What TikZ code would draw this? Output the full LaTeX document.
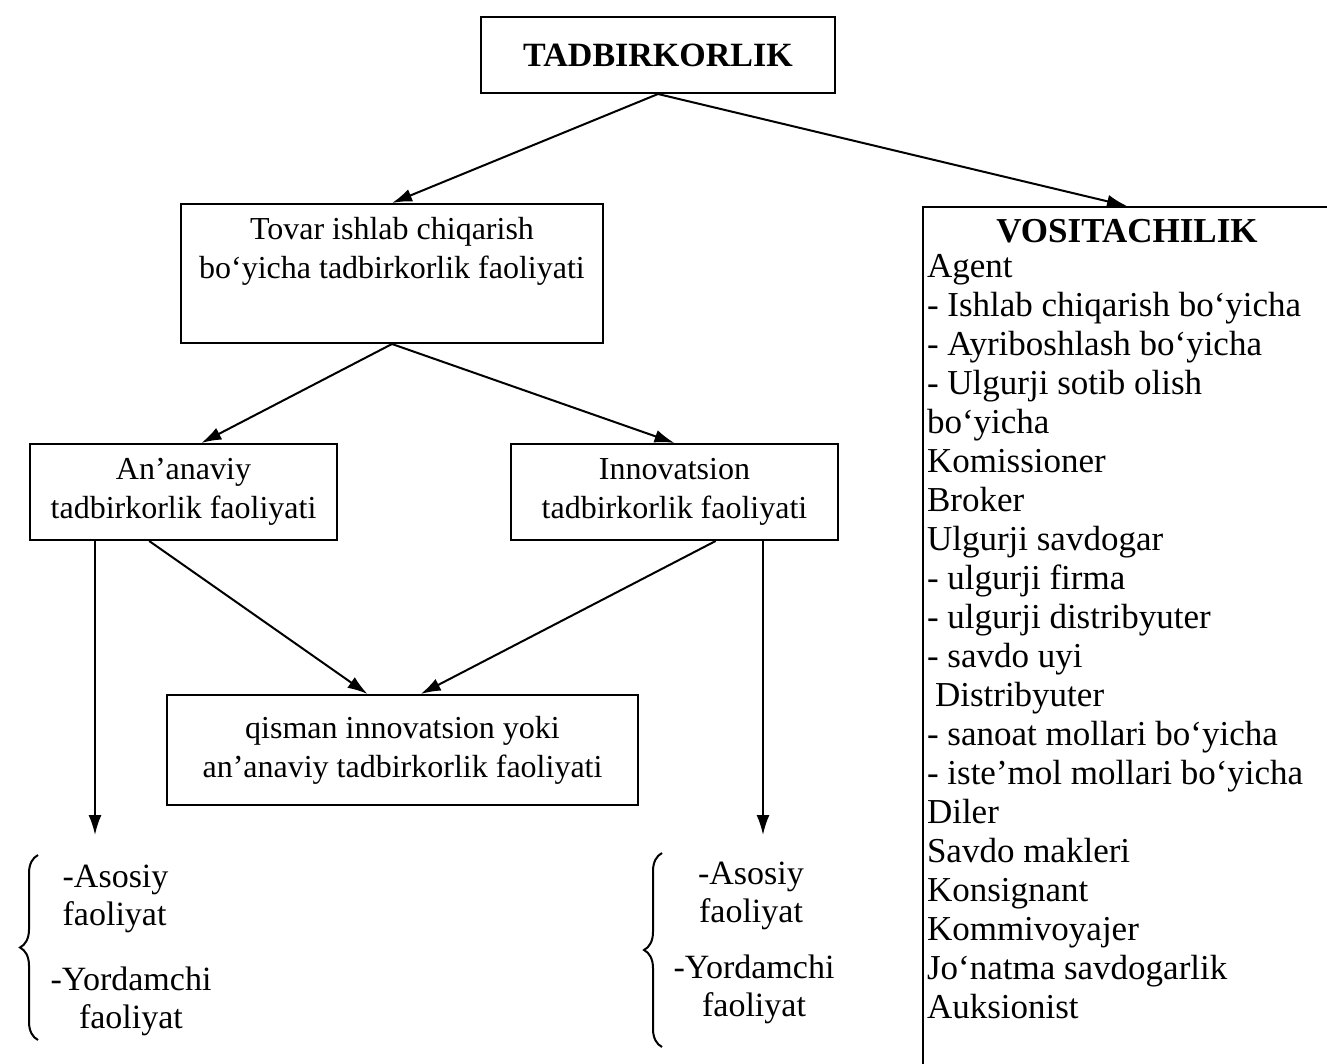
\documentclass[tikz,border=0pt]{standalone}
\usepackage{fontspec}
\setmainfont{Liberation Serif}
\usetikzlibrary{arrows.meta}
\usetikzlibrary{decorations.pathreplacing}

\begin{document}
\begin{tikzpicture}[x=0.5pt,y=-0.5pt,line width=1pt,>={Latex[length=10pt,width=6.5pt]},
    every node/.style={font=\fontsize{16}{19.5}\selectfont,align=center},
    box/.style={draw,inner sep=0pt},
    sidetext/.style={font=\fontsize{17}{19}\selectfont},
    brace/.style={decorate,decoration={brace,amplitude=9pt}}]
      \useasboundingbox (0,0) rectangle (1327,1064);
      \node (tadbir) [box,minimum width=177pt,minimum height=38pt] at (658,55)
        {\fontsize{17}{19.5}\selectfont\textbf{TADBIRKORLIK}};
      \node (tovar) [box,minimum width=211pt,minimum height=69.5pt] at (392,273.5)
        {Tovar ishlab chiqarish\\bo‘yicha tadbirkorlik faoliyati\\[6pt]\mbox{}};
      \node (anan) [box,minimum width=153.5pt,minimum height=48pt] at (183.5,492)
        {An’anaviy\\tadbirkorlik faoliyati};
      \node (innov) [box,minimum width=163.5pt,minimum height=48pt] at (674.5,492)
        {Innovatsion\\tadbirkorlik faoliyati};
      \node (qisman) [box,minimum width=235.5pt,minimum height=55pt] at (402.5,750)
        {qisman innovatsion yoki\\an’anaviy tadbirkorlik faoliyati};
      \node (vosita) [draw,minimum width=204pt,minimum height=432pt,anchor=north west] at (922,206) {};
      \node (vtitle) at (1127,231) {\fontsize{17.5}{19.5}\selectfont\textbf{VOSITACHILIK}};
      \node (vlist) [align=left,anchor=north west,inner sep=2pt,
        font=\fontsize{17.5}{19.5}\selectfont] at (922,249) {Agent\\
        - Ishlab chiqarish bo‘yicha\\
        - Ayriboshlash bo‘yicha\\
        - Ulgurji sotib olish\\
        bo‘yicha\\
        Komissioner\\
        Broker\\
        Ulgurji savdogar\\
        - ulgurji firma\\
        - ulgurji distribyuter\\
        - savdo uyi\\
        \hspace{4pt}Distribyuter\\
        - sanoat mollari bo‘yicha\\
        - iste’mol mollari bo‘yicha\\
        Diler\\
        Savdo makleri\\
        Konsignant\\
        Kommivoyajer\\
        Jo‘natma savdogarlik\\
        Auksionist};
      \coordinate (lend) at (95,835);
      \coordinate (rend) at (763,835);
      \node (asosiyL) [sidetext,align=left,anchor=west] at (55,899) {-Asosiy\\faoliyat};
      \node (yordamL) [sidetext] at (131,1001) {-Yordamchi\\faoliyat};
      \node (asosiyR) [sidetext] at (751,896) {-Asosiy\\faoliyat};
      \node (yordamR) [sidetext] at (754,989) {-Yordamchi\\faoliyat};
      \draw[->] (tadbir.south) -- (tovar.north);
      \draw[->] (tadbir.south) -- (vosita.north);
      \draw[->] (tovar.south) -- (anan.70);
      \draw[->] (tovar.south) -- (innov.north);
      \draw[->] (anan.235) -- (qisman.122);
      \draw[->] (innov.310) -- (qisman.72);
      \draw[->] (anan.south -| lend) -- (lend);
      \draw[->] (innov.south -| rend) -- (rend);
      \draw[brace] (38,1040) -- (38,855);
      \draw[brace] (662,1047) -- (662,853);
    \end{tikzpicture}
\end{document}
